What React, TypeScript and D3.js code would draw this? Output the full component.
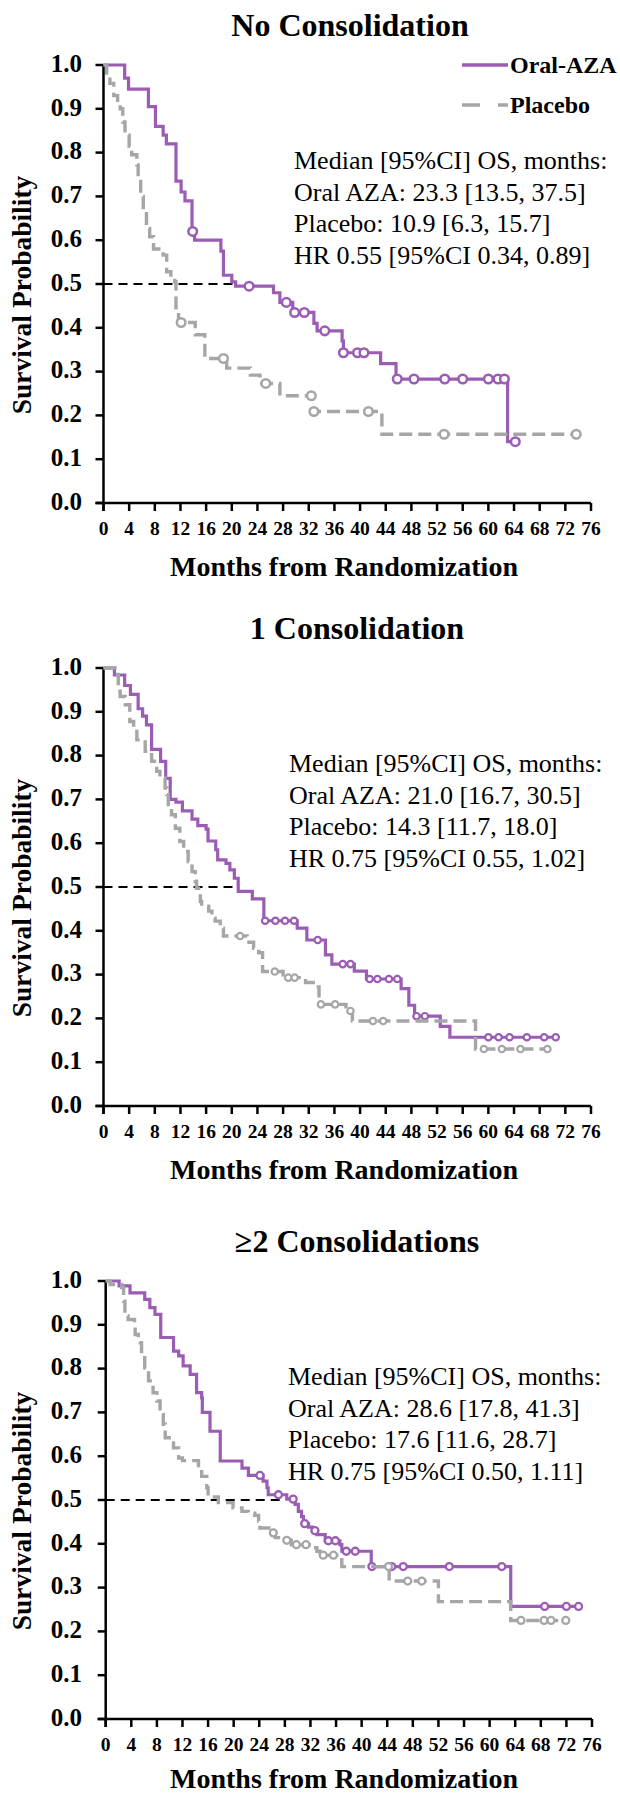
import React from "react";
import * as d3 from "d3";

// ---- data (months, survival probability) ----
const xTickValues = [0, 4, 8, 12, 16, 20, 24, 28, 32, 36, 40, 44, 48, 52, 56, 60, 64, 68, 72, 76];
const yTickValues = [0, 0.1, 0.2, 0.3, 0.4, 0.5, 0.6, 0.7, 0.8, 0.9, 1.0];

const panelTitles = ["No Consolidation", "1 Consolidation", "≥2 Consolidations"];

const statsNoCons = [
  "Median [95%CI] OS, months:",
  "Oral AZA: 23.3 [13.5, 37.5]",
  "Placebo: 10.9 [6.3, 15.7]",
  "HR 0.55 [95%CI 0.34, 0.89]",
];
const statsOneCons = [
  "Median [95%CI] OS, months:",
  "Oral AZA: 21.0 [16.7, 30.5]",
  "Placebo: 14.3 [11.7, 18.0]",
  "HR 0.75 [95%CI 0.55, 1.02]",
];
const statsTwoCons = [
  "Median [95%CI] OS, months:",
  "Oral AZA: 28.6 [17.8, 41.3]",
  "Placebo: 17.6 [11.6, 28.7]",
  "HR 0.75 [95%CI 0.50, 1.11]",
];

// where the black median reference line stops (months)
const medianLineEnds = [20.6, 20.9, 28.1];

// No consolidation
const oralSteps1: [number, number][] = [
  [0, 1.0], [3.3, 0.97], [3.9, 0.945], [7.0, 0.905], [8.1, 0.86], [9.3, 0.84], [9.8, 0.82],
  [11.3, 0.735], [12.1, 0.71], [12.7, 0.69], [13.8, 0.62], [14.2, 0.6], [18.3, 0.575],
  [18.7, 0.52], [20.0, 0.505], [20.6, 0.495], [26.5, 0.48], [27.5, 0.458], [29.5, 0.435],
  [32.8, 0.41], [33.3, 0.393], [37.2, 0.37], [37.4, 0.343], [43.2, 0.318], [45.6, 0.283],
  [63.0, 0.14],
];
const oralCens1: [number, number][] = [
  [13.9, 0.62], [22.7, 0.495], [28.5, 0.458], [29.8, 0.435], [31.3, 0.435], [34.5, 0.393],
  [37.4, 0.343], [39.6, 0.343], [40.6, 0.343], [45.8, 0.283], [48.4, 0.283], [53.2, 0.283],
  [56.0, 0.283], [60.0, 0.283], [61.5, 0.283], [62.5, 0.283], [64.2, 0.14],
];
const placeboSteps1: [number, number][] = [
  [0, 1.0], [0.5, 0.975], [1.0, 0.958], [1.6, 0.93], [2.2, 0.915], [2.6, 0.9], [3.0, 0.87],
  [3.35, 0.84], [4.0, 0.815], [4.4, 0.795], [5.2, 0.772], [5.4, 0.734], [5.8, 0.7],
  [6.2, 0.665], [6.7, 0.627], [7.2, 0.608], [7.8, 0.58], [9.3, 0.566], [9.85, 0.528],
  [10.5, 0.515], [11.1, 0.505], [11.3, 0.43], [11.7, 0.412], [14.3, 0.384], [15.8, 0.33],
  [19.2, 0.308], [22.9, 0.292], [24.4, 0.273], [27.5, 0.245], [32.6, 0.209], [43.4, 0.157],
];
const placeboCens1: [number, number][] = [
  [12.1, 0.412], [18.7, 0.33], [25.3, 0.273], [32.4, 0.245], [32.8, 0.209], [41.3, 0.209],
  [53.1, 0.157], [73.7, 0.157],
];

// 1 consolidation
const oralSteps2: [number, number][] = [
  [0, 1.0], [1.7, 0.984], [3.3, 0.96], [4.2, 0.94], [5.4, 0.907], [6.1, 0.89], [6.7, 0.87],
  [7.5, 0.814], [8.9, 0.787], [9.7, 0.748], [10.4, 0.7], [11.3, 0.694], [12.3, 0.674],
  [13.8, 0.655], [14.7, 0.64], [16.0, 0.632], [16.3, 0.605], [17.5, 0.585], [17.8, 0.562],
  [19.1, 0.554], [19.7, 0.539], [20.4, 0.52], [21.0, 0.49], [23.2, 0.473], [25.0, 0.423],
  [30.2, 0.406], [31.7, 0.379], [34.6, 0.345], [35.6, 0.324], [39.1, 0.308], [41.0, 0.29],
  [46.4, 0.268], [47.6, 0.23], [48.5, 0.205], [52.5, 0.182], [54.0, 0.157],
];
const oralCens2: [number, number][] = [
  [25.2, 0.423], [26.8, 0.423], [28.3, 0.423], [29.7, 0.423], [33.4, 0.379], [37.3, 0.324],
  [38.5, 0.324], [41.5, 0.29], [42.7, 0.29], [44.5, 0.29], [45.8, 0.29], [48.8, 0.205],
  [50.1, 0.205], [60.0, 0.157], [61.6, 0.157], [63.3, 0.157], [66.0, 0.157], [68.7, 0.157],
  [70.5, 0.157],
];
const placeboSteps2: [number, number][] = [
  [0, 1.0], [1.8, 0.985], [2.3, 0.947], [2.6, 0.935], [3.4, 0.916], [4.1, 0.878], [4.7, 0.863],
  [5.2, 0.836], [6.5, 0.81], [7.5, 0.787], [8.3, 0.764], [8.8, 0.749], [9.6, 0.726],
  [9.9, 0.711], [10.1, 0.684], [10.6, 0.665], [11.2, 0.634], [11.9, 0.604], [12.5, 0.581],
  [13.2, 0.558], [13.8, 0.535], [14.3, 0.513], [14.5, 0.497], [15.1, 0.467], [15.3, 0.456],
  [16.4, 0.445], [16.9, 0.429], [17.4, 0.422], [18.2, 0.406], [18.7, 0.388], [22.4, 0.374],
  [23.4, 0.36], [24.2, 0.35], [24.8, 0.307], [28.0, 0.293], [31.5, 0.282], [32.7, 0.272],
  [33.6, 0.232], [37.8, 0.217], [38.8, 0.194], [58.0, 0.13],
];
const placeboCens2: [number, number][] = [
  [21.3, 0.388], [26.7, 0.307], [28.8, 0.293], [29.8, 0.293], [33.9, 0.232], [36.1, 0.232],
  [38.5, 0.217], [42.0, 0.194], [43.6, 0.194], [59.3, 0.13], [62.1, 0.13], [65.0, 0.13],
  [69.2, 0.13],
];

// >=2 consolidations
const oralSteps3: [number, number][] = [
  [0, 1.0], [2.1, 0.989], [3.8, 0.973], [6.1, 0.958], [6.9, 0.939], [7.7, 0.924], [8.6, 0.871],
  [10.6, 0.84], [11.4, 0.829], [12.1, 0.806], [13.2, 0.787], [14.2, 0.745], [15.0, 0.733],
  [15.1, 0.7], [16.3, 0.657], [17.9, 0.589], [21.3, 0.573], [22.3, 0.556], [24.6, 0.543],
  [25.2, 0.528], [25.4, 0.512], [28.3, 0.502], [29.6, 0.49], [30.1, 0.474], [30.6, 0.462],
  [30.9, 0.446], [31.7, 0.438], [32.3, 0.43], [33.0, 0.421], [34.3, 0.407], [36.6, 0.398],
  [36.9, 0.383], [41.5, 0.348], [63.3, 0.257],
];
const oralCens3: [number, number][] = [
  [24.1, 0.556], [27.0, 0.512], [29.3, 0.502], [31.1, 0.446], [32.7, 0.43], [34.8, 0.407],
  [35.9, 0.407], [37.6, 0.383], [39.0, 0.383], [41.6, 0.348], [44.7, 0.348], [46.5, 0.348],
  [53.7, 0.348], [61.9, 0.348], [68.6, 0.257], [72.0, 0.257], [73.9, 0.257],
];
const placeboSteps3: [number, number][] = [
  [0, 1.0], [0.7, 0.992], [2.5, 0.985], [2.8, 0.954], [3.0, 0.92], [3.5, 0.912], [4.5, 0.897],
  [4.6, 0.878], [5.1, 0.871], [5.4, 0.859], [5.6, 0.832], [6.1, 0.802], [6.7, 0.772],
  [7.4, 0.745], [8.0, 0.726], [8.5, 0.695], [9.0, 0.673], [9.3, 0.642], [10.6, 0.619],
  [11.4, 0.596], [12.0, 0.59], [14.5, 0.573], [15.0, 0.554], [15.8, 0.528], [16.0, 0.507],
  [17.6, 0.494], [19.9, 0.482], [21.3, 0.474], [22.3, 0.47], [23.3, 0.465], [23.9, 0.452],
  [24.1, 0.436], [25.5, 0.425], [26.5, 0.414], [27.0, 0.408], [29.0, 0.398], [32.2, 0.391],
  [33.0, 0.383], [33.5, 0.374], [36.9, 0.348], [44.3, 0.315], [52.0, 0.268], [63.3, 0.225],
];
const placeboCens3: [number, number][] = [
  [26.2, 0.425], [28.3, 0.408], [29.8, 0.398], [31.3, 0.398], [34.0, 0.374], [35.6, 0.374],
  [44.2, 0.348], [47.2, 0.315], [49.4, 0.315], [64.9, 0.225], [68.5, 0.225], [69.6, 0.225],
  [71.9, 0.225],
];

const FONT = '"Liberation Serif", "Times New Roman", "DejaVu Serif", serif';
const PURPLE = "#9b5cb4";
const GRAY = "#a6a6aa";

type Pt = [number, number];

interface PanelProps {
  title: string;
  titleX: number;
  stats: string[];
  statsX: number;
  top: number; // pixel y of 1.0
  left: number; // pixel x of month 0
  right: number; // pixel x of month 76
  oral: Pt[];
  oralCens: Pt[];
  placebo: Pt[];
  placeboCens: Pt[];
  medianEnd: number;
  r: number;
  cw: number;
  xTitleDy?: number;
  legend?: boolean;
}

const txt = (size: number, bold = true): React.CSSProperties => ({
  fontFamily: FONT,
  fontSize: size,
  fontWeight: bold ? 700 : 400,
});

function Panel(p: PanelProps) {
  const bottom = p.top + 438;
  const x = d3.scaleLinear().domain([0, 76]).range([p.left, p.right]);
  const y = d3.scaleLinear().domain([0, 1]).range([bottom, p.top]);
  const line = d3
    .line<Pt>()
    .x((d) => x(d[0]))
    .y((d) => y(d[1]))
    .curve(d3.curveStepAfter);

  // extend each curve to its last censored patient
  const withEnd = (steps: Pt[], cens: Pt[]): Pt[] => {
    const last = steps[steps.length - 1];
    const end = Math.max(last[0], d3.max(cens, (d) => d[0]) || 0);
    return [...steps, [end, last[1]]];
  };

  return (
    <g>
      <text x={p.titleX} y={p.top - 29} textAnchor="middle" style={txt(32)}>
        {p.title}
      </text>

      {/* axes */}
      <line x1={p.left - 8} x2={p.right} y1={bottom} y2={bottom} stroke="#000" strokeWidth={2.5} />
      <line x1={p.left} x2={p.left} y1={y(1)} y2={bottom + 8} stroke="#000" strokeWidth={2.5} />
      {yTickValues.map((t) => (
        <g key={"y" + t}>
          <line x1={p.left - 8} x2={p.left} y1={y(t)} y2={y(t)} stroke="#000" strokeWidth={2.5} />
          <text x={82} y={y(t) - 2} dy="0.35em" textAnchor="end" style={txt(25)}>
            {t.toFixed(1)}
          </text>
        </g>
      ))}
      {xTickValues.map((t) => (
        <g key={"x" + t}>
          <line x1={x(t)} x2={x(t)} y1={bottom} y2={bottom + 8} stroke="#000" strokeWidth={2.5} />
          <text x={x(t)} y={bottom + 32} textAnchor="middle" style={txt(19.5)}>
            {t}
          </text>
        </g>
      ))}
      <text x={344} y={bottom + (p.xTitleDy ?? 73)} textAnchor="middle" style={txt(28)}>
        Months from Randomization
      </text>
      <text
        transform={`translate(31,${p.top + 230}) rotate(-90)`}
        textAnchor="middle"
        style={txt(27.5)}
      >
        Survival Probability
      </text>

      {/* median reference */}
      <line
        x1={p.left}
        x2={x(p.medianEnd)}
        y1={y(0.5)}
        y2={y(0.5)}
        stroke="#000"
        strokeWidth={2}
        strokeDasharray="9 6"
      />

      {/* curves */}
      <path d={line(withEnd(p.oral, p.oralCens)) || ""} fill="none" stroke={PURPLE} strokeWidth={3.2} />
      {p.oralCens.map((d, i) => (
        <circle key={"oc" + i} cx={x(d[0])} cy={y(d[1])} r={p.r} fill="#fff" stroke={PURPLE} strokeWidth={p.cw} />
      ))}
      <path
        d={line(withEnd(p.placebo, p.placeboCens)) || ""}
        fill="none"
        stroke={GRAY}
        strokeWidth={3.4}
        strokeDasharray="13 6"
      />
      {p.placeboCens.map((d, i) => (
        <circle key={"pc" + i} cx={x(d[0])} cy={y(d[1])} r={p.r} fill="#fff" stroke={GRAY} strokeWidth={p.cw} />
      ))}

      {/* stats */}
      {p.stats.map((s, i) => (
        <text key={"s" + i} x={p.statsX} y={p.top + 104 + i * 31.7} style={txt(26, false)}>
          {s}
        </text>
      ))}

      {p.legend && (
        <g>
          <line x1={462} x2={508} y1={65} y2={65} stroke={PURPLE} strokeWidth={3.5} />
          <text x={510} y={65} dy="0.35em" style={txt(24)}>
            Oral-AZA
          </text>
          <line x1={462} x2={508} y1={105} y2={105} stroke={GRAY} strokeWidth={3.5} strokeDasharray="18 18" />
          <text x={510} y={105} dy="0.35em" style={txt(24)}>
            Placebo
          </text>
        </g>
      )}
    </g>
  );
}

export default function App() {
  return (
    <svg
      width={620}
      height={1796}
      viewBox="0 0 620 1796"
      style={{ position: "absolute", left: 0, top: 0, background: "#fff", fontFamily: FONT }}
    >
      <Panel
        title={panelTitles[0]}
        titleX={350}
        stats={statsNoCons}
        statsX={294}
        top={65}
        left={103.5}
        right={591}
        oral={oralSteps1}
        oralCens={oralCens1}
        placebo={placeboSteps1}
        placeboCens={placeboCens1}
        medianEnd={medianLineEnds[0]}
        r={4.3}
        cw={2.5}
        legend
      />
      <Panel
        title={panelTitles[1]}
        titleX={357}
        stats={statsOneCons}
        statsX={289}
        top={668}
        left={103.5}
        right={591}
        oral={oralSteps2}
        oralCens={oralCens2}
        placebo={placeboSteps2}
        placeboCens={placeboCens2}
        medianEnd={medianLineEnds[1]}
        r={3.2}
        cw={2.2}
      />
      <Panel
        title={panelTitles[2]}
        titleX={357}
        stats={statsTwoCons}
        statsX={288}
        top={1281}
        left={105.7}
        right={592}
        oral={oralSteps3}
        oralCens={oralCens3}
        placebo={placeboSteps3}
        placeboCens={placeboCens3}
        medianEnd={medianLineEnds[2]}
        r={3.5}
        cw={2.3}
        xTitleDy={69}
      />
    </svg>
  );
}
